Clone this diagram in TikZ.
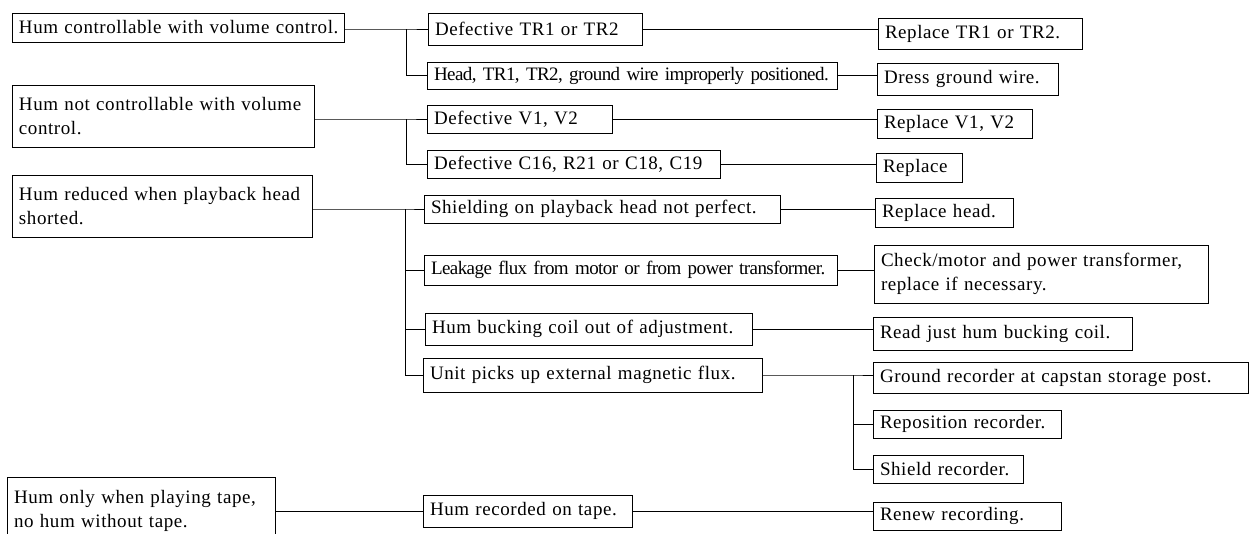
\documentclass[tikz,border=0pt]{standalone}
\usepackage{fontspec}
\setmainfont{Liberation Serif}[LetterSpace=3]
\newfontfamily\condf{Liberation Serif}[LetterSpace=-3]
\newcommand\bx[6]{%
  \pgfmathsetmacro\bxw{#4-#2-14}\pgfmathsetmacro\bxh{#5-#3}%
  \node[bx, text width=\bxw pt, minimum height=\bxh pt] (#1) at ({(#2+#4)/2},{(#3+#5)/2}) {#6};}
\begin{document}
\begin{tikzpicture}[x=1pt,y=-1pt,line width=1pt,
  bx/.style={draw, line width=1pt, inner xsep=7pt, inner ysep=0pt, outer sep=0pt,
    align=left, font=\fontsize{19}{24}\selectfont},
  link/.style={draw, line width=1pt}]
\fill[white] (0,0) rectangle (1256,533);
\useasboundingbox (0,0) rectangle (1256,533);
% column A
\bx{A1}{12}{13}{344}{42}{\mbox{Hum controllable with volume control.}}
\bx{A2}{12}{85}{314}{147}{\mbox{Hum not controllable with volume}\\control.}
\bx{A3}{12}{175}{312}{237}{\mbox{Hum reduced when playback head}\\shorted.}
\bx{A4}{7}{477}{275}{545}{\mbox{Hum only when playing tape,}\\\mbox{no hum without tape.}}
% column B
\bx{B1}{428}{13}{642}{45}{\mbox{Defective TR1 or TR2}}
\bx{B2}{427}{62}{837}{89}{\mbox{\condf Head, TR1, TR2, ground wire improperly positioned.}}
\bx{B3}{427}{105}{612}{133}{\mbox{Defective V1, V2}}
\bx{B4}{427}{150}{720}{178}{\mbox{Defective C16, R21 or C18, C19}}
\bx{B5}{424}{195}{780}{223}{\mbox{Shielding on playback head not perfect.}}
\bx{B6}{424}{255}{837}{285}{\mbox{\condf Leakage flux from motor or from power transformer.}}
\bx{B7}{425}{313}{752}{345}{\mbox{Hum bucking coil out of adjustment.}}
\bx{B8}{423}{358}{762}{392}{\mbox{Unit picks up external magnetic flux.}}
\bx{B9}{423}{495}{632}{527}{\mbox{Hum recorded on tape.}}
% column C
\bx{C1}{878}{18}{1082}{49}{\mbox{Replace TR1 or TR2.}}
\bx{C2}{877}{63}{1058}{95}{\mbox{Dress ground wire.}}
\bx{C3}{877}{109}{1032}{138}{\mbox{Replace V1, V2}}
\bx{C4}{876}{153}{962}{182}{\mbox{Replace}}
\bx{C5}{875}{198}{1013}{227}{\mbox{Replace head.}}
\bx{C6}{874}{245}{1208}{303}{\mbox{Check/motor and power transformer,}\\\mbox{replace if necessary.}}
\bx{C7}{873}{317}{1132}{350}{\mbox{Read just hum bucking coil.}}
\bx{D1}{873}{362}{1248}{393}{\mbox{Ground recorder at capstan storage post.}}
\bx{D2}{873}{410}{1061}{438}{\mbox{Reposition recorder.}}
\bx{D3}{873}{455}{1023}{483}{\mbox{Shield recorder.}}
\bx{C8}{873}{502}{1061}{530}{\mbox{Renew recording.}}
% junctions
\coordinate (j1) at (406,29);
\coordinate (j2) at (406,119);
\coordinate (j3) at (405,209);
\coordinate (j4) at (853,375);
% connectors
\path[link] (A1.east |- j1) -- (j1) -- (B1.west);
\path[link] (j1) |- (B2.west);
\path[link] (A2.east |- j2) -- (j2) -- (B3.west);
\path[link] (j2) |- (B4.west);
\path[link] (A3.east |- j3) -- (j3) -- (B5.west);
\path[link] (j3) |- (B6.west);
\path[link] (j3) |- (B7.west);
\path[link] (j3) |- (B8.west);
\path[link] (A4.east |- B9.west) -- (B9.west);
\path[link] (B1.east) -- (B1.east -| C1.west);
\path[link] (B2.east) -- (B2.east -| C2.west);
\path[link] (B3.east) -- (B3.east -| C3.west);
\path[link] (B4.east) -- (B4.east -| C4.west);
\path[link] (B5.east) -- (B5.east -| C5.west);
\path[link] (B6.east) -- (B6.east -| C6.west);
\path[link] (B7.east) -- (B7.east -| C7.west);
\path[link] (B8.east) -- (j4) -- (j4 -| D1.west);
\path[link] (j4) |- (D2.west);
\path[link] (j4) |- (D3.west);
\path[link] (B9.east) -- (B9.east -| C8.west);
\end{tikzpicture}
\end{document}
